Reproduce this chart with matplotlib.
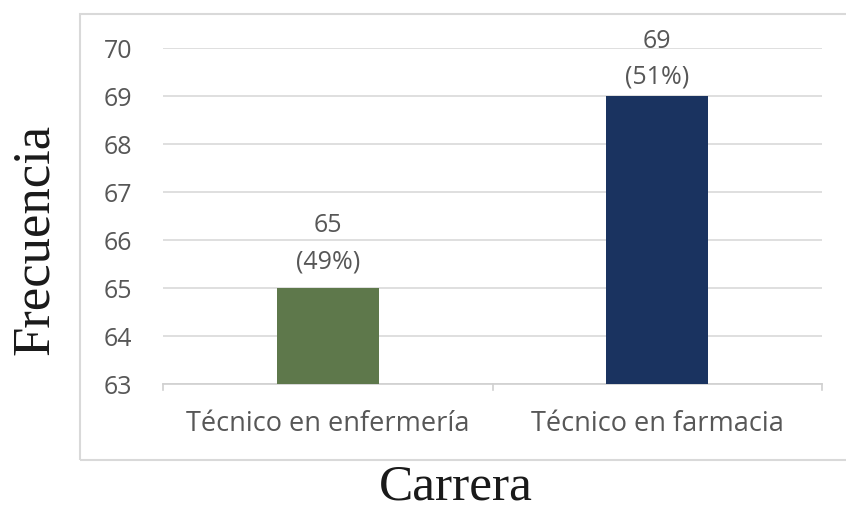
import matplotlib
matplotlib.use("Agg")
import matplotlib.pyplot as plt
from matplotlib.patches import Rectangle

categories = ["Técnico en enfermería", "Técnico en farmacia"]
values = [65, 69]
percents = ["49%", "51%"]
colors = ["#5e784b", "#1a3360"]
yticks = [63, 64, 65, 66, 67, 68, 69, 70]
# label offsets above bar top in pixels (count line, percent line)
label_offsets = [(65, 29), (57, 22)]

fig = plt.figure(figsize=(8.46, 5.09), dpi=100)
ax = fig.add_axes([163/846, 1-384/509, (822-163)/846, (384-48)/509])

# outer border (chart area frame)
fig.patches.append(Rectangle((80/846, 1-460/509), 1.2, (460-14)/509,
                             transform=fig.transFigure, fill=False,
                             edgecolor="#d9d9d9", linewidth=1.5, zorder=0))

x = list(range(len(categories)))
ax.bar(x, [v - 63 for v in values], bottom=63, width=0.31, color=colors, zorder=3)
ax.set_xlim(-0.5, 1.5)
ax.set_ylim(63, 70)
ax.set_yticks(yticks)
ax.set_yticklabels([str(t) for t in yticks])
ax.grid(axis="y", color="#d9d9d9", linewidth=1.2, zorder=0)
for s in ["top", "right", "left"]:
    ax.spines[s].set_visible(False)
ax.spines["bottom"].set_color("#d0d0d0")
ax.spines["bottom"].set_linewidth(1.2)
ax.tick_params(axis="y", length=0, pad=22, labelsize=18, labelcolor="#575757")
ax.set_xticks(x)
ax.set_xticklabels(categories)
ax.tick_params(axis="x", length=0, pad=19, labelsize=19.5, labelcolor="#575757")
# category boundary ticks
for b in [-0.5, 0.5, 1.5]:
    ax.plot([b, b], [63, 62.88], color="#d0d0d0", lw=1.2, clip_on=False)
for lab in ax.get_xticklabels() + ax.get_yticklabels():
    lab.set_family("Open Sans")

for xi, v, p, (o1, o2) in zip(x, values, percents, label_offsets):
    ax.annotate(f"{v}", (xi, v), xytext=(0, o1 * 0.72), textcoords="offset points",
                ha="center", va="center_baseline", fontsize=18, color="#575757",
                family="Open Sans")
    ax.annotate(f"({p})", (xi, v), xytext=(0, o2 * 0.72), textcoords="offset points",
                ha="center", va="center_baseline", fontsize=18, color="#575757",
                family="Open Sans")

fig.text(35/846, 1-239/509, "Frecuencia", rotation=90, ha="center", va="center",
         fontsize=38, family="Liberation Serif", color="#1a1a1a")
fig.text(456/846, 1-487/509, "Carrera", ha="center", va="center",
         fontsize=37, family="Liberation Serif", color="#1a1a1a")

fig.savefig("out.png", dpi=100)
